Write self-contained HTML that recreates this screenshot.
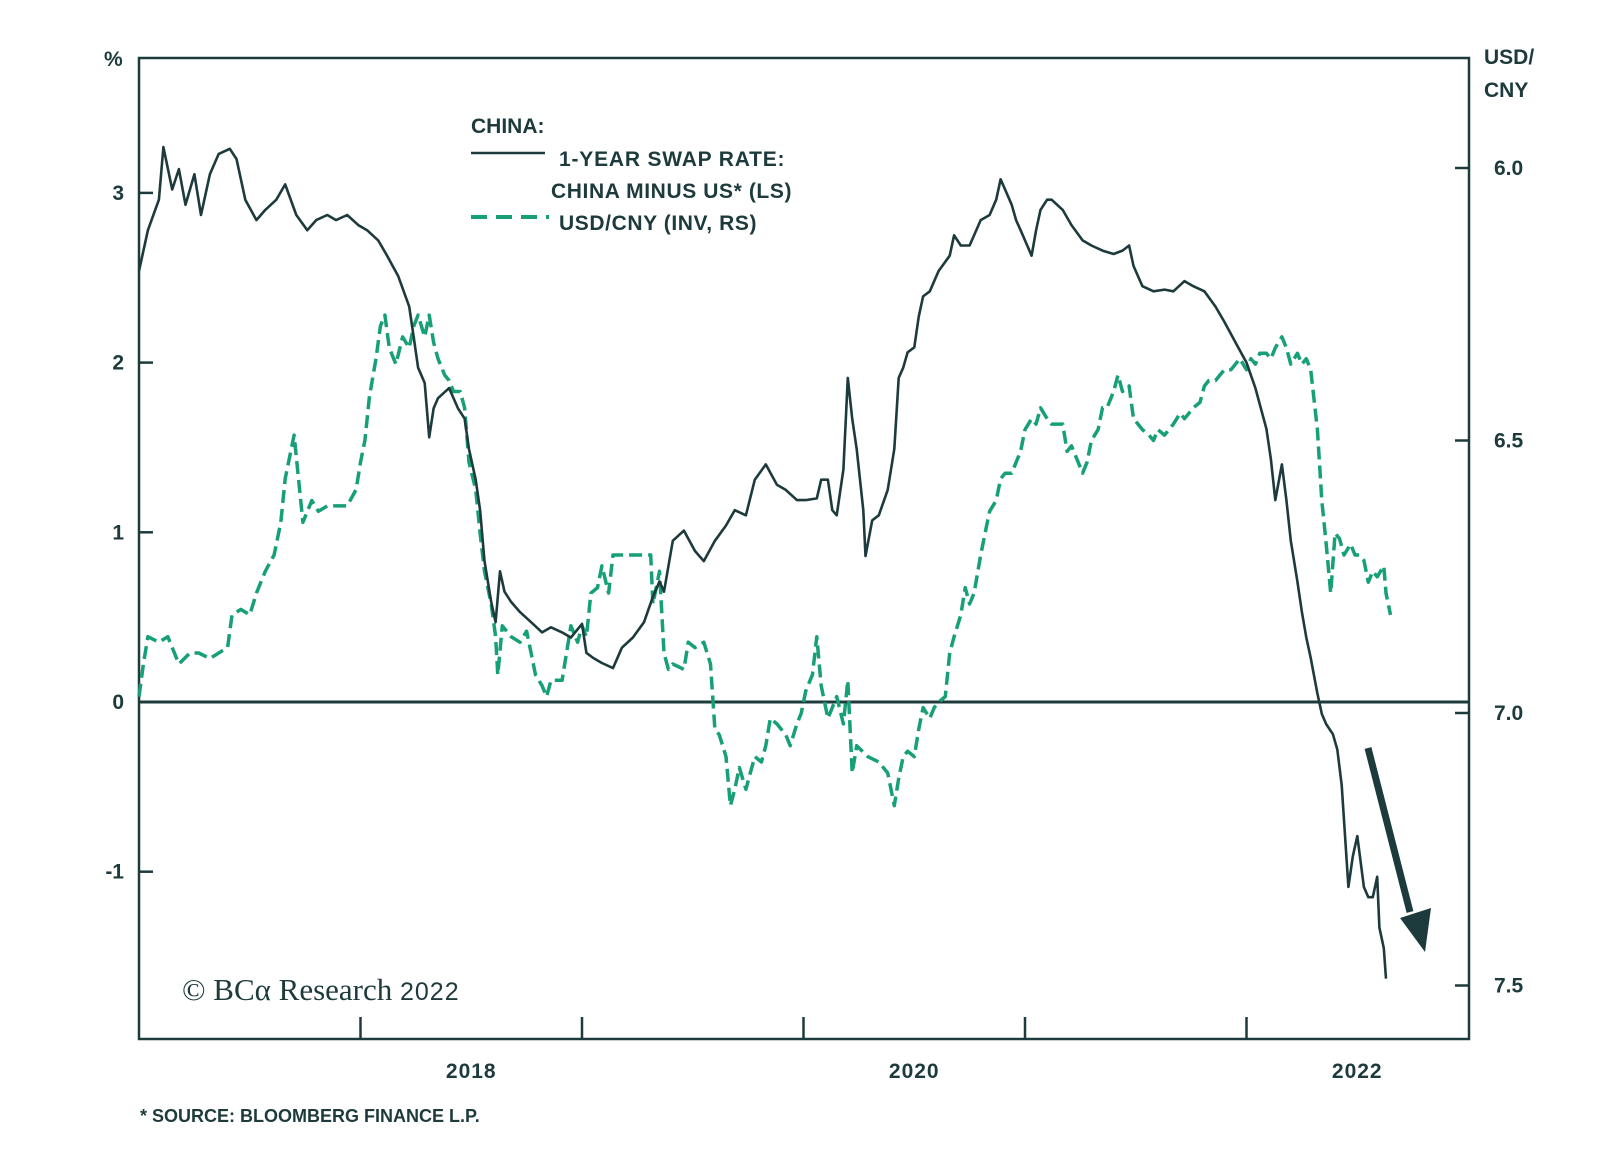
<!DOCTYPE html>
<html><head><meta charset="utf-8">
<style>
html,body{margin:0;padding:0;background:#fff;}
svg{display:block;font-family:"Liberation Sans",sans-serif;}
.t{fill:#1d3a3c;font-weight:bold;}
</style></head>
<body>
<svg id="chart" width="1600" height="1160" viewBox="0 0 1600 1160">
  <g id="axes"></g>
  <g id="series"></g>
  <g id="labels"></g>
  <g>
    <text class="t" x="471" y="133" font-size="21">CHINA:</text>
    <line x1="471" y1="153" x2="545" y2="153" stroke="#1d3a3c" stroke-width="2.5"/>
    <text class="t" x="559" y="166" font-size="21" letter-spacing="0.8">1-YEAR SWAP RATE:</text>
    <text class="t" x="551" y="198" font-size="21" letter-spacing="0.6">CHINA MINUS US* (LS)</text>
    <line x1="471" y1="217" x2="549" y2="217" stroke="#17a078" stroke-width="4" stroke-dasharray="16 9"/>
    <text class="t" x="559" y="230" font-size="21" letter-spacing="0.6">USD/CNY (INV, RS)</text>
  </g>
  <text x="182" y="1000" font-family="Liberation Serif, serif" font-size="31" fill="#1d3a3c">© BCα Research <tspan font-size="25" font-family="Liberation Sans, sans-serif" letter-spacing="1">2022</tspan></text>
  <text class="t" x="140" y="1122" font-size="18">* SOURCE: BLOOMBERG FINANCE L.P.</text>
  <g>
    <line x1="1368" y1="748" x2="1410" y2="912" stroke="#1d3a3c" stroke-width="7"/>
    <polygon points="1400,918 1431,908 1425,952" fill="#1d3a3c"/>
  </g>
</svg>
<script>
const swapSeries = [[2017.00,2.54],[2017.04,2.78],[2017.09,2.96],[2017.11,3.27],[2017.15,3.02],[2017.18,3.14],[2017.21,2.93],[2017.25,3.11],[2017.28,2.87],[2017.32,3.11],[2017.36,3.23],[2017.41,3.26],[2017.44,3.20],[2017.48,2.96],[2017.53,2.84],[2017.57,2.90],[2017.62,2.96],[2017.66,3.05],[2017.71,2.87],[2017.76,2.78],[2017.80,2.84],[2017.85,2.87],[2017.89,2.84],[2017.94,2.87],[2017.99,2.81],[2018.03,2.78],[2018.08,2.72],[2018.12,2.63],[2018.17,2.51],[2018.22,2.33],[2018.24,2.15],[2018.26,1.97],[2018.29,1.88],[2018.31,1.56],[2018.33,1.73],[2018.35,1.79],[2018.40,1.85],[2018.44,1.73],[2018.47,1.67],[2018.49,1.49],[2018.52,1.31],[2018.54,1.13],[2018.56,0.83],[2018.59,0.59],[2018.61,0.47],[2018.63,0.77],[2018.65,0.65],[2018.68,0.59],[2018.72,0.53],[2018.77,0.47],[2018.82,0.41],[2018.86,0.44],[2018.91,0.41],[2018.95,0.38],[2019.00,0.46],[2019.02,0.29],[2019.05,0.26],[2019.09,0.23],[2019.14,0.20],[2019.18,0.32],[2019.23,0.38],[2019.28,0.47],[2019.32,0.62],[2019.35,0.71],[2019.37,0.65],[2019.41,0.95],[2019.46,1.01],[2019.51,0.89],[2019.55,0.83],[2019.60,0.95],[2019.65,1.04],[2019.69,1.13],[2019.74,1.10],[2019.78,1.31],[2019.83,1.40],[2019.88,1.28],[2019.92,1.25],[2019.97,1.19],[2020.01,1.19],[2020.06,1.20],[2020.08,1.31],[2020.11,1.31],[2020.13,1.13],[2020.15,1.10],[2020.18,1.37],[2020.20,1.91],[2020.22,1.67],[2020.24,1.49],[2020.27,1.13],[2020.28,0.86],[2020.31,1.07],[2020.34,1.10],[2020.38,1.25],[2020.41,1.49],[2020.43,1.91],[2020.45,1.97],[2020.47,2.06],[2020.50,2.09],[2020.52,2.27],[2020.54,2.39],[2020.57,2.42],[2020.61,2.54],[2020.66,2.63],[2020.68,2.75],[2020.71,2.69],[2020.75,2.69],[2020.80,2.84],[2020.84,2.87],[2020.87,2.96],[2020.89,3.08],[2020.91,3.02],[2020.94,2.93],[2020.96,2.84],[2020.98,2.78],[2021.00,2.72],[2021.03,2.63],[2021.05,2.78],[2021.07,2.90],[2021.10,2.96],[2021.12,2.96],[2021.17,2.90],[2021.21,2.81],[2021.26,2.72],[2021.30,2.69],[2021.35,2.66],[2021.40,2.64],[2021.44,2.66],[2021.47,2.69],[2021.49,2.57],[2021.53,2.45],[2021.58,2.42],[2021.63,2.43],[2021.67,2.42],[2021.72,2.48],[2021.76,2.45],[2021.81,2.42],[2021.86,2.33],[2021.90,2.24],[2021.95,2.12],[2022.00,2.00],[2022.04,1.85],[2022.09,1.61],[2022.11,1.43],[2022.13,1.19],[2022.16,1.40],[2022.18,1.19],[2022.20,0.95],[2022.23,0.71],[2022.25,0.53],[2022.27,0.38],[2022.29,0.26],[2022.32,0.05],[2022.34,-0.07],[2022.36,-0.13],[2022.39,-0.19],[2022.41,-0.28],[2022.43,-0.49],[2022.46,-1.09],[2022.48,-0.91],[2022.50,-0.79],[2022.53,-1.09],[2022.55,-1.15],[2022.57,-1.15],[2022.59,-1.03],[2022.60,-1.33],[2022.62,-1.45],[2022.63,-1.63]];

const fxSeries = [[2017.00,6.97],[2017.02,6.91],[2017.04,6.86],[2017.09,6.87],[2017.13,6.86],[2017.18,6.91],[2017.23,6.89],[2017.27,6.89],[2017.32,6.90],[2017.36,6.89],[2017.40,6.88],[2017.42,6.82],[2017.46,6.81],[2017.50,6.82],[2017.53,6.78],[2017.57,6.74],[2017.61,6.71],[2017.64,6.65],[2017.66,6.57],[2017.70,6.49],[2017.72,6.57],[2017.74,6.65],[2017.78,6.61],[2017.81,6.63],[2017.85,6.62],[2017.89,6.62],[2017.94,6.62],[2017.98,6.59],[2018.00,6.54],[2018.02,6.50],[2018.04,6.42],[2018.07,6.35],[2018.09,6.29],[2018.11,6.27],[2018.13,6.33],[2018.16,6.36],[2018.19,6.31],[2018.22,6.33],[2018.24,6.29],[2018.26,6.27],[2018.29,6.31],[2018.31,6.27],[2018.33,6.32],[2018.35,6.35],[2018.38,6.38],[2018.40,6.39],[2018.42,6.41],[2018.45,6.41],[2018.47,6.44],[2018.49,6.54],[2018.52,6.59],[2018.54,6.67],[2018.56,6.74],[2018.59,6.80],[2018.61,6.86],[2018.62,6.93],[2018.64,6.84],[2018.68,6.86],[2018.72,6.87],[2018.75,6.85],[2018.77,6.89],[2018.79,6.93],[2018.82,6.95],[2018.84,6.97],[2018.86,6.94],[2018.91,6.94],[2018.93,6.89],[2018.95,6.84],[2018.98,6.87],[2019.00,6.84],[2019.02,6.86],[2019.04,6.78],[2019.07,6.77],[2019.09,6.73],[2019.12,6.78],[2019.14,6.71],[2019.16,6.71],[2019.21,6.71],[2019.25,6.71],[2019.31,6.71],[2019.32,6.80],[2019.35,6.74],[2019.37,6.89],[2019.39,6.92],[2019.41,6.91],[2019.46,6.92],[2019.48,6.87],[2019.51,6.88],[2019.55,6.87],[2019.58,6.91],[2019.60,7.03],[2019.62,7.04],[2019.65,7.08],[2019.67,7.17],[2019.69,7.14],[2019.71,7.10],[2019.74,7.14],[2019.76,7.11],[2019.78,7.08],[2019.81,7.09],[2019.83,7.06],[2019.85,7.01],[2019.88,7.02],[2019.90,7.03],[2019.92,7.04],[2019.94,7.06],[2019.97,7.02],[2019.99,7.00],[2020.01,6.96],[2020.04,6.93],[2020.06,6.86],[2020.08,6.95],[2020.11,7.01],[2020.13,6.99],[2020.15,6.97],[2020.18,7.02],[2020.20,6.94],[2020.22,7.11],[2020.24,7.06],[2020.29,7.08],[2020.34,7.09],[2020.38,7.11],[2020.41,7.17],[2020.43,7.12],[2020.45,7.08],[2020.47,7.07],[2020.50,7.08],[2020.52,7.03],[2020.54,6.99],[2020.57,7.01],[2020.59,6.99],[2020.61,6.98],[2020.64,6.97],[2020.66,6.89],[2020.68,6.86],[2020.71,6.82],[2020.73,6.77],[2020.75,6.80],[2020.77,6.78],[2020.80,6.71],[2020.82,6.67],[2020.84,6.63],[2020.87,6.61],[2020.89,6.57],[2020.91,6.56],[2020.94,6.56],[2020.96,6.54],[2020.98,6.52],[2021.00,6.48],[2021.03,6.46],[2021.05,6.47],[2021.07,6.44],[2021.10,6.46],[2021.12,6.47],[2021.17,6.47],[2021.19,6.52],[2021.21,6.51],[2021.24,6.54],[2021.26,6.56],[2021.28,6.54],[2021.30,6.50],[2021.33,6.48],[2021.35,6.44],[2021.37,6.44],[2021.40,6.41],[2021.42,6.38],[2021.44,6.41],[2021.47,6.40],[2021.49,6.46],[2021.51,6.47],[2021.53,6.48],[2021.56,6.49],[2021.58,6.50],[2021.60,6.48],[2021.63,6.49],[2021.65,6.48],[2021.67,6.47],[2021.70,6.45],[2021.72,6.46],[2021.74,6.45],[2021.76,6.44],[2021.79,6.43],[2021.81,6.40],[2021.83,6.39],[2021.86,6.39],[2021.88,6.38],[2021.90,6.37],[2021.93,6.37],[2021.95,6.36],[2021.97,6.35],[2022.00,6.37],[2022.02,6.35],[2022.04,6.36],[2022.06,6.34],[2022.09,6.34],[2022.11,6.35],[2022.13,6.33],[2022.16,6.31],[2022.18,6.33],[2022.20,6.36],[2022.23,6.34],[2022.25,6.36],[2022.27,6.35],[2022.29,6.37],[2022.32,6.48],[2022.34,6.61],[2022.36,6.69],[2022.38,6.78],[2022.40,6.67],[2022.42,6.68],[2022.44,6.71],[2022.47,6.69],[2022.49,6.71],[2022.51,6.71],[2022.53,6.72],[2022.55,6.76],[2022.57,6.74],[2022.59,6.75],[2022.62,6.73],[2022.63,6.78],[2022.65,6.82]];

const leftTicks = [-1, 0, 1, 2, 3];
const leftTickLabels = ["-1", "0", "1", "2", "3"];
const rightTicks = [6.0, 6.5, 7.0, 7.5];
const rightTickLabels = ["6.0", "6.5", "7.0", "7.5"];
const xTickYears = [2018, 2019, 2020, 2021, 2022];
const xLabelYears = [2018, 2020, 2022];

const L = 139, R = 1469, T = 58, B = 1039;
const xS = y => L + (y - 2017) * 221.5;
const yL = v => 702 - v * 169.7;
const yR = v => 168 + (v - 6) * 545;
const NS = "http://www.w3.org/2000/svg";
const C = "#1d3a3c";
function mk(tag, attrs, parent) {
  const e = document.createElementNS(NS, tag);
  for (const k in attrs) e.setAttribute(k, attrs[k]);
  parent.appendChild(e);
  return e;
}
const axes = document.getElementById('axes');
const labels = document.getElementById('labels');
const series = document.getElementById('series');

const frame = mk('rect', {x: L, y: T, width: R - L, height: B - T, fill: 'none', stroke: C, 'stroke-width': 2.5}, axes);


const zl = mk('line', {x1: L, x2: R, y1: yL(0), y2: yL(0), stroke: C, 'stroke-width': 3}, axes);



leftTicks.forEach((v, i) => {
  const tk = mk('line', {x1: L, x2: L + 14, y1: yL(v), y2: yL(v), stroke: C, 'stroke-width': 2.5}, axes);
  
  
  const tx = mk('text', {x: 124, y: yL(v) + 7, 'text-anchor': 'end', 'font-size': 21, class: 't'}, labels);
  tx.textContent = leftTickLabels[i];
  
  
});
rightTicks.forEach((v, i) => {
  const tk = mk('line', {x1: R - 14, x2: R, y1: yR(v), y2: yR(v), stroke: C, 'stroke-width': 2.5}, axes);
  
  
  const tx = mk('text', {x: 1494, y: yR(v) + 7, 'font-size': 21, class: 't'}, labels);
  tx.textContent = rightTickLabels[i];
  
  
});
xTickYears.forEach(y => {
  const tk = mk('line', {x1: xS(y), x2: xS(y), y1: B - 22, y2: B, stroke: C, 'stroke-width': 2.5}, axes);
  
  
});
xLabelYears.forEach(y => {
  const tx = mk('text', {x: xS(y + 0.5), y: 1078, 'text-anchor': 'middle', 'font-size': 21, 'letter-spacing': 1, class: 't'}, labels);
  tx.textContent = String(y);
  
  
});
const pct = mk('text', {x: 104, y: 66, 'font-size': 21, class: 't'}, labels);
pct.textContent = '%';


const u1 = mk('text', {x: 1484, y: 64, 'font-size': 21, class: 't'}, labels);
u1.textContent = 'USD/';


const u2 = mk('text', {x: 1484, y: 97, 'font-size': 21, class: 't'}, labels);
u2.textContent = 'CNY';



const fxPath = mk('path', {d: fxSeries.map((p, i) => (i ? 'L' : 'M') + xS(p[0]).toFixed(1) + ',' + yR(p[1]).toFixed(1)).join(''), fill: 'none', stroke: '#17a078', 'stroke-width': 3.5, 'stroke-dasharray': '13 6', 'stroke-linejoin': 'round'}, series);


const swPath = mk('path', {d: swapSeries.map((p, i) => (i ? 'L' : 'M') + xS(p[0]).toFixed(1) + ',' + yL(p[1]).toFixed(1)).join(''), fill: 'none', stroke: C, 'stroke-width': 2.6, 'stroke-linejoin': 'round'}, series);


</script>
</body></html>
